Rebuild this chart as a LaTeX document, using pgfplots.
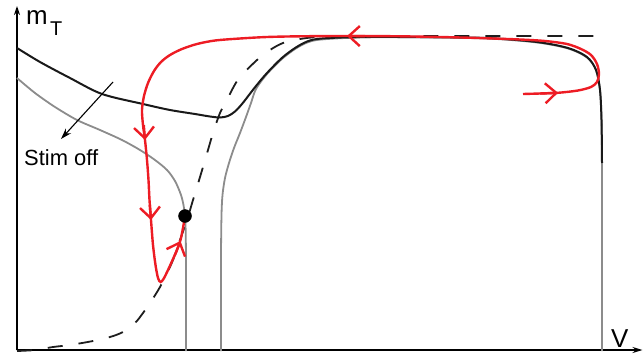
\documentclass[border=0pt]{standalone}
\usepackage{pgfplots}
\pgfplotsset{compat=1.18}
\usepackage{fontspec}
\setmainfont{Liberation Sans}
\usetikzlibrary{arrows.meta}
\definecolor{trajred}{RGB}{237,28,36}
\definecolor{nullgray}{RGB}{140,140,140}
\definecolor{dashgray}{RGB}{30,30,30}

\begin{document}
\begin{tikzpicture}
\begin{axis}[
  scale only axis, width=643bp, height=356bp,
  xmin=0, xmax=643, ymin=0, ymax=356,
  y dir=reverse,
  hide axis, clip=false,
]
\coordinate (ll) at (rel axis cs:0,0);
\coordinate (ur) at (rel axis cs:1,1);

% axes
\addplot[black, line width=1.5bp, -{Stealth[length=9bp,width=6bp]}] coordinates {(17,350)(17,6)};
\addplot[black, line width=1.5bp, -{Stealth[length=10bp,width=6bp]}] coordinates {(17,350)(642.5,350)};

% m_inf (dashed)
\addplot[dashgray, line width=1.8bp, dash pattern=on 15bp off 16bp, smooth, tension=0.5] coordinates {
(17,351)(35,350)(53,347)(70,345)(93,341)(110,337)(123,332)(135,323)(143,313)(152,300)
(160,287)(167,273)(173,260)(180,240)(187,220)(193,200)(197,187)(203,167)(208,150)(213,133)
(220,113)(227,100)(233,88)(240,77)(257,60)(270,50)(283,43)(300,39)(317,37)(340,36)(470,36)(603,36)};

% nullcline, stimulus off (gray)
\addplot[nullgray, line width=1.8bp, smooth, tension=0.5] coordinates {
(17,78)(35,93)(55,107)(77,120)(100,130)(122,140)(140,150)(155,160)(167,170)(175,181)
(181,195)(184,208)(185.5,225)(186,260)(186,300)(186,351)};
\addplot[nullgray, line width=1.8bp, smooth, tension=0.5] coordinates {
(221,351)(221,300)(221,255)(221.5,215)(222.5,195)(225,178)(229,163)(234,148)(240,133)
(246,117)(251,103)(256,89)(267,74)(283,58)(300,46)(317,40)(360,37.5)(420,37.5)(487,38.5)
(537,42.5)(568,48.5)(587,57.5)(596,70)(600,90)(601.5,120)(602,163)(602,250)(602,351)};

% nullcline, stimulus on (black)
\addplot[black!90, line width=2bp, smooth, tension=0.5] coordinates {
(17,48)(40,62)(70,78)(102,94)(143,104)(170,110)(195,114)(210,116.5)(220,117.5)(228,116)
(235,111.5)(242,104)(249,95)(256,86)(267,73)(283,57)(300,45)(317,39)(360,37)(420,37)
(487,38)(537,42)(568,48)(587,57)(596,70)(600,90)(601.5,120)(602,163)};

% trajectory
\addplot[trajred, line width=2.4bp, smooth, tension=0.5] coordinates {
(523,94)(540,93.5)(558,92.8)(578,90.5)(591,87)(597,82)(599,74)(597,64)(591,55)(581,49)
(567,44)(545,41)(520,39.5)(487,38.3)(453,37.3)(400,36.3)(347,36)(300,36.3)(267,37)
(240,38.5)(215,40.5)(197,44)(182,49)(170,55)(161,62)(154,71)(148,83)(144,96)(142,110)
(143,125)(145,140)(147,160)(148.5,180)(149.5,200)(151,220)(153,245)(155.5,265)(158,278)
(160.5,282)(163.5,279)(168,270)(173,259)(177,250)(180.5,240)(183,228)(185,216)};

% direction of motion along the trajectory
\pgfplotsset{dirarrow/.style={trajred, line width=2.4bp, -{Straight Barb[length=11bp,width=20bp]}}}
\addplot[dirarrow] coordinates {(540,93.5)(558,92.8)};
\addplot[dirarrow] coordinates {(365,36.1)(347,36)};
\addplot[dirarrow] coordinates {(143.8,125)(145,140)};
\addplot[dirarrow] coordinates {(149.8,205)(151,220)};
\addplot[dirarrow] coordinates {(174.5,256)(180.5,241)};

% fixed point
\addplot[only marks, mark=*, mark size=6.5bp, black] coordinates {(185,216)};

% stimulus-off annotation
\addplot[black, line width=1.1bp, -{Stealth[length=11bp,width=7bp]}] coordinates {(113,82)(61,139)};
\node[anchor=base west, inner sep=0pt, font=\fontsize{22}{26}\selectfont] at (axis cs:24,165) {Stim off};

% axis labels
\node[anchor=base west, inner sep=0pt, font=\fontsize{26}{30}\selectfont] at (axis cs:26,25) {m};
\node[anchor=base west, inner sep=0pt, font=\fontsize{20}{24}\selectfont] at (axis cs:50,35) {T};
\node[anchor=base west, inner sep=0pt, font=\fontsize{26}{30}\selectfont] at (axis cs:611,347) {V};
\end{axis}
\pgfresetboundingbox
\useasboundingbox (ll) rectangle (ur);
\end{tikzpicture}
\end{document}
